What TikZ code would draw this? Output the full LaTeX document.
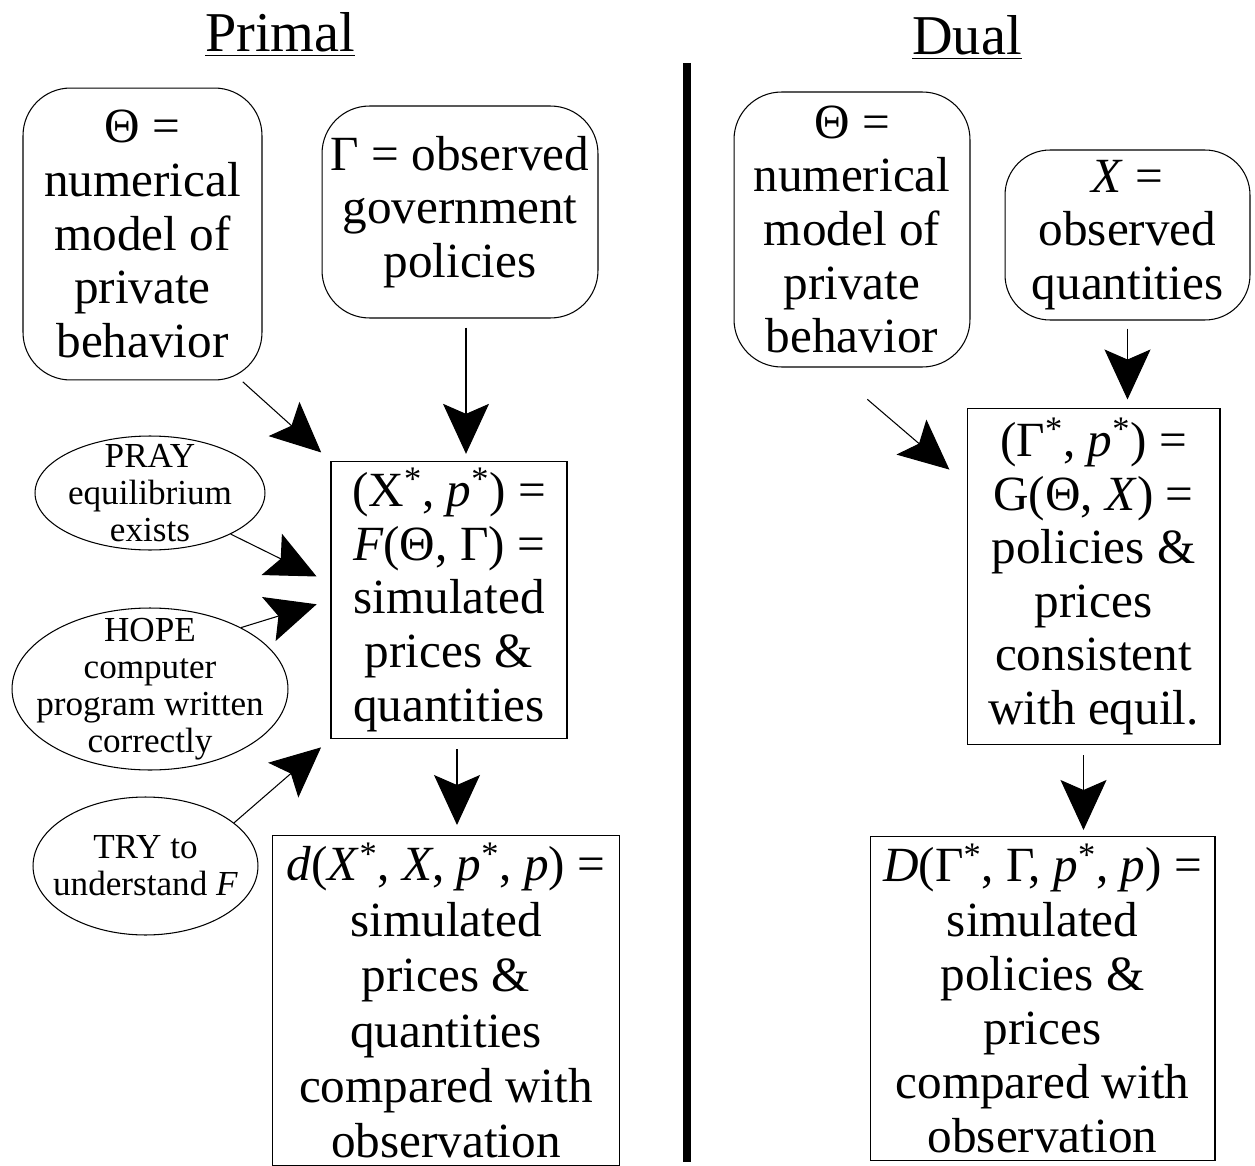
\documentclass[tikz,border=0pt]{standalone}
\usepackage{fontspec}
\setmainfont{Liberation Serif}
\usetikzlibrary{shapes.geometric, arrows.meta, positioning, calc}

\begin{document}
\begin{tikzpicture}[
    x=0.02cm, y=-0.02cm,
    txt/.style     = {align=center, font=\fontsize{28}{30.5}\selectfont},
    rbox/.style    = {txt, draw, rounded corners=0.95cm, line width=0.6pt},
    sbox/.style    = {txt, draw, line width=0.6pt, inner sep=4pt},
    lowbox/.style  = {sbox, anchor=north, font=\fontsize{28}{31.5}\selectfont},
    oval/.style    = {draw, ellipse, align=center, inner sep=-10pt,
                      line width=0.6pt, font=\fontsize{20}{21}\selectfont},
    title/.style   = {anchor=base, font=\fontsize{32}{36}\selectfont},
    arrow/.style   = {-{Stealth[length=1cm, width=0.92cm, inset=0.2cm]},
                      line width=0.6pt},
    divider/.style = {line width=4pt}
  ]
  \useasboundingbox (0,0) rectangle (1255,1166);

  % titles and separator
  \node[title] (primal) at (280,52) {\underline{Primal}};
  \node[title] (dual)   at (967,55) {\underline{Dual}};
  \draw[divider] (687,63) -- (687,1162);

  % primal side
  \node[rbox, minimum width=4.78cm, minimum height=5.84cm] (thetaP) at (142.5,234)
        {Θ =\\numerical\\model of\\private\\behavior};
  \node[rbox, minimum width=5.52cm, minimum height=4.24cm] (gammaP) at (460,212)
        {Γ = observed\\government\\policies};
  \node[sbox, minimum width=4.72cm, minimum height=5.52cm] (simP) at (449,600)
        {(X\textsuperscript{*}, \textit{p}\textsuperscript{*}) =\\\textit{F}(Θ, Γ) =\\simulated\\prices \&\\quantities};
  \node[lowbox, minimum width=6.96cm] (distP) at (446,835)
        {\textit{d}(\textit{X}\textsuperscript{*}, \textit{X}, \textit{p}\textsuperscript{*}, \textit{p}) =\\simulated\\prices \&\\quantities\\compared with\\observation};
  \node[oval, minimum width=4.6cm, minimum height=2.28cm] (pray) at (150,493)
        {PRAY\\equilibrium\\exists};
  \node[oval, minimum width=5.52cm, minimum height=3.24cm] (hope) at (150,689)
        {HOPE\\computer\\program written\\correctly};
  \node[oval, minimum width=4.5cm, minimum height=2.76cm] (try) at (145.5,866)
        {TRY to\\understand \textit{F}};

  % dual side
  \node[rbox, minimum width=4.72cm, minimum height=5.5cm] (thetaD) at (852,229.5)
        {Θ =\\numerical\\model of\\private\\behavior};
  \node[rbox, rounded corners=0.9cm, minimum width=4.9cm, minimum height=3.4cm] (quantD) at (1127.5,235)
        {\textit{X} =\\observed\\quantities};
  \node[sbox, minimum width=5.06cm, minimum height=6.74cm] (eqD) at (1093.5,576.5)
        {(Γ\textsuperscript{*}, \textit{p}\textsuperscript{*}) =\\G(Θ, \textit{X}) =\\policies \&\\prices\\consistent\\with equil.};
  \node[lowbox, font=\fontsize{28}{30.8}\selectfont, minimum width=6.9cm] (distD) at (1042.5,836)
        {\textit{D}(Γ\textsuperscript{*}, Γ, \textit{p}\textsuperscript{*}, \textit{p}) =\\simulated\\policies \&\\prices\\compared with\\observation};

  \coordinate (gIn)  at ($(gammaP.south)+(6,0)$);
  \coordinate (fOut) at ($(simP.south)+(8,0)$);
  \coordinate (gOut) at ($(eqD.south)+(-10,0)$);

  \draw[arrow, shorten <=0.04cm, shorten >=0.25cm] (thetaP.-56) -- (simP.north west);
  \draw[arrow, shorten <=0.18cm, shorten >=0.14cm] (gIn) -- (gIn |- simP.north);
  \draw[arrow, shorten >=0.31cm] (pray.-27) -- (simP.172);
  \draw[arrow, shorten >=0.29cm] (hope.34)  -- (simP.west);
  \draw[arrow, shorten >=0.25cm] (try.26)   -- (simP.south west);
  \draw[arrow, shorten <=0.2cm, shorten >=0.2cm] (fOut) -- (fOut |- distP.north);

  \draw[arrow, shorten <=0.98cm, shorten >=0.45cm] (thetaD.-99) -- (eqD.144);
  \draw[arrow, shorten <=0.16cm, shorten >=0.16cm] (quantD.south) -- (quantD.south |- eqD.north);
  \draw[arrow, shorten <=0.2cm, shorten >=0.12cm] (gOut) -- (gOut |- distD.north);
\end{tikzpicture}
\end{document}
